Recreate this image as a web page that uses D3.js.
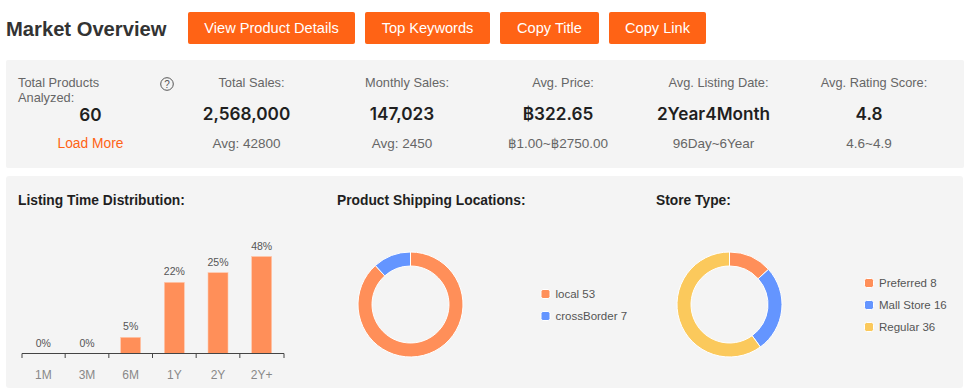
<!DOCTYPE html>
<html lang="en">
<head>
    <meta charset="utf-8">
    <title>Market Overview</title>
    <script src="https://d3js.org/d3.v7.min.js"></script>
    <style>
        html, body { margin: 0; padding: 0; background: #fff; overflow: hidden; }
        svg { display: block; }
        text { font-family: "Liberation Sans", "DejaVu Sans", sans-serif; }
        text.kpi-value { font-family: Inter, "DejaVu Sans", sans-serif; font-weight: 600; }
    </style>
</head>
<body>
<svg id="vis" width="970" height="392"></svg>

<script>
    /* Data */
    var buttonLabels = ["View Product Details", "Top Keywords", "Copy Title", "Copy Link"];

    var kpiLabels = ["Total Sales:", "Monthly Sales:", "Avg. Price:", "Avg. Listing Date:", "Avg. Rating Score:"];
    var kpiValues = ["2,568,000", "147,023", "\u0E3F322.65", "2Year4Month", "4.8"];
    var kpiNotes = ["Avg: 42800", "Avg: 2450", "\u0E3F1.00~\u0E3F2750.00", "96Day~6Year", "4.6~4.9"];

    var listingCategories = ["1M", "3M", "6M", "1Y", "2Y", "2Y+"];
    var listingPercents = [0, 0, 5, 22, 25, 48];

    var shippingNames = ["local", "crossBorder"];
    var shippingCounts = [53, 7];

    var storeNames = ["Preferred", "Mall Store", "Regular"];
    var storeCounts = [8, 16, 36];

    var orange = "#ff6315", barOrange = "#ff8f59", blue = "#6495ff", yellow = "#fbc95c";
    var panelFill = "#f4f4f4", darkText = "#1f1f1f", greyText = "#666666";

    var svg = d3.select("#vis");

    function addText(x, y, str, size, color, weight, anchor) {
        return svg.append("text")
            .attr("x", x).attr("y", y)
            .attr("font-size", size)
            .attr("fill", color)
            .attr("font-weight", weight || "normal")
            .attr("text-anchor", anchor || "start")
            .text(str);
    }

    // Header
    addText(6, 36, "Market Overview", 20.2, "#333333", "bold");

    var buttonX = [188, 365, 500, 609];
    var buttonW = [167, 125, 99, 97];
    buttonLabels.forEach(function(label, i) {
        svg.append("rect")
            .attr("x", buttonX[i]).attr("y", 12)
            .attr("width", buttonW[i]).attr("height", 32)
            .attr("rx", 2)
            .attr("fill", orange);
        addText(buttonX[i] + buttonW[i] / 2, 33, label, 14.6, "#ffffff", "normal", "middle");
    });

    // Panels
    svg.append("rect").attr("x", 6).attr("y", 60).attr("width", 958).attr("height", 108).attr("rx", 2).attr("fill", panelFill);
    svg.append("rect").attr("x", 6).attr("y", 176).attr("width", 957).attr("height", 212).attr("rx", 3).attr("fill", panelFill);

    // First KPI has its own layout
    addText(18, 87, "Total Products", 12.8, greyText);
    addText(18, 102, "Analyzed:", 12.8, greyText);
    addText(90.5, 121, "60", 17.2, darkText, "600", "middle").attr("class", "kpi-value");
    addText(90.5, 148, "Load More", 13.8, orange, "normal", "middle");

    svg.append("circle").attr("cx", 167).attr("cy", 84).attr("r", 6.3)
        .attr("fill", "none").attr("stroke", "#555555").attr("stroke-width", 1);
    addText(167, 87.5, "?", 10, "#555555", "normal", "middle");

    var kpiCenters = [246.5, 402, 558, 713.5, 869];
    kpiLabels.forEach(function(label, i) {
        addText(kpiCenters[i] + 5, 87, label, 12.8, greyText, "normal", "middle");
        addText(kpiCenters[i], 120, kpiValues[i], 17.2, darkText, "600", "middle").attr("class", "kpi-value");
        addText(kpiCenters[i], 148, kpiNotes[i], 13.5, greyText, "normal", "middle");
    });

    // Section titles
    addText(18, 205, "Listing Time Distribution:", 13.8, darkText, "bold");
    addText(337, 205, "Product Shipping Locations:", 13.8, darkText, "bold");
    addText(656, 205, "Store Type:", 13.8, darkText, "bold");

    // Bar chart, the tallest bar is cut off by the axis maximum of the original
    var xScale = d3.scaleBand()
        .domain(listingCategories)
        .range([21.5, 283.5])
        .paddingInner(0)
        .paddingOuter(0);

    var yScale = d3.scaleLinear()
        .domain([0, 30])
        .range([353.5, 256.5])
        .clamp(true);

    var barWidth = 20;

    svg.selectAll(".bar")
        .data(listingCategories)
        .join("rect")
        .attr("class", "bar")
        .attr("x", function(d) { return xScale(d) + (xScale.bandwidth() - barWidth) / 2; })
        .attr("y", function(d, i) { return yScale(listingPercents[i]); })
        .attr("width", barWidth)
        .attr("height", function(d, i) { return yScale(0) - yScale(listingPercents[i]); })
        .attr("fill", barOrange)
        .attr("stroke", "#ffc9ae")
        .attr("stroke-width", 0.6);

    svg.selectAll(".bar-label")
        .data(listingCategories)
        .join("text")
        .attr("class", "bar-label")
        .attr("x", function(d) { return xScale(d) + xScale.bandwidth() / 2; })
        .attr("y", function(d, i) { return yScale(listingPercents[i]) - 7; })
        .attr("text-anchor", "middle")
        .attr("font-size", 10.5)
        .attr("fill", "#555555")
        .text(function(d, i) { return listingPercents[i] + "%"; });

    var xAxis = d3.axisBottom(xScale).tickSizeInner(0).tickSizeOuter(5).tickPadding(17);
    var axisG = svg.append("g")
        .attr("transform", "translate(0, 353)")
        .call(xAxis);
    axisG.select(".domain").attr("stroke", "#444444");
    axisG.selectAll(".tick text")
        .attr("font-size", 12)
        .attr("font-family", "Liberation Sans")
        .attr("fill", "#888888");

    // band edges get the small tick marks
    axisG.selectAll(".edge")
        .data(listingCategories.slice(1))
        .join("line")
        .attr("class", "edge")
        .attr("x1", function(d) { return xScale(d); })
        .attr("x2", function(d) { return xScale(d); })
        .attr("y1", 0).attr("y2", 5)
        .attr("stroke", "#444444");

    // Donuts
    function drawDonut(cx, cy, names, counts, colors, legendX, legendY) {
        var pie = d3.pie().sort(null);
        var arc = d3.arc().innerRadius(38.5).outerRadius(52.5);
        var g = svg.append("g").attr("transform", "translate(" + cx + "," + cy + ")");

        g.selectAll("path")
            .data(pie(counts))
            .join("path")
            .attr("d", arc)
            .attr("fill", function(d, i) { return colors[i]; })
            .attr("stroke", "#ffffff")
            .attr("stroke-width", 1);

        names.forEach(function(name, i) {
            var y = legendY + i * 22;
            svg.append("rect")
                .attr("x", legendX - 4.5).attr("y", y - 4.5)
                .attr("width", 9).attr("height", 9)
                .attr("rx", 2)
                .attr("fill", colors[i])
                .attr("stroke", "#ffffff")
                .attr("stroke-width", 1);
            addText(legendX + 10, y + 4, name + " " + counts[i], 11.5, "#555555");
        });
    }

    drawDonut(410.5, 304.5, shippingNames, shippingCounts, [barOrange, blue], 545.5, 294);
    drawDonut(729.5, 304.5, storeNames, storeCounts, [barOrange, blue, yellow], 869, 283);
</script>
</body>
</html>
